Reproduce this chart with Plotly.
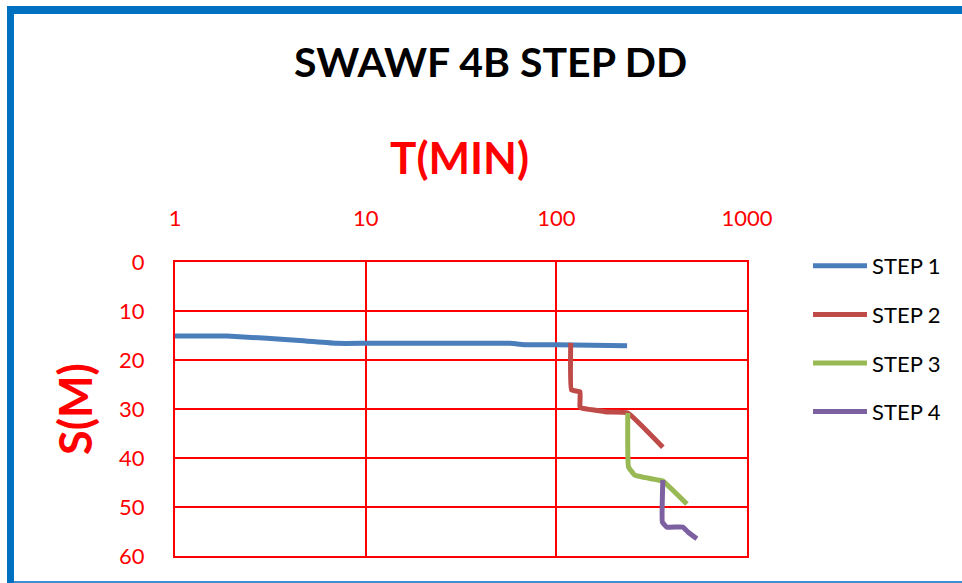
import plotly.graph_objects as go

# Drawdown readings: time since start of step (min) and drawdown S (m)
step1_t = [1, 1.87, 4.5, 7.1, 10, 57, 70, 100, 235]
step1_s = [15.1, 15.1, 16.0, 16.6, 16.6, 16.6, 16.9, 16.9, 17.1]

step2_t = [119, 120, 133, 133, 136, 184, 237, 362]
step2_s = [16.5, 26.1, 26.5, 29.6, 29.8, 30.6, 30.8, 37.8]

step3_t = [237, 239, 258, 341, 362, 484]
step3_s = [30.8, 41.8, 43.5, 44.5, 44.7, 49.4]

step4_t = [362, 360, 380, 461, 490, 546]
step4_s = [44.5, 53.1, 54.1, 54.1, 55.1, 56.5]

series_names = ["STEP 1", "STEP 2", "STEP 3", "STEP 4"]
series_colors = ["#4A7EBB", "#BE4B48", "#98B954", "#7D60A0"]

x_ticks = [1, 10, 100, 1000]
y_ticks = [0, 10, 20, 30, 40, 50, 60]

FONT = "Lato"
W, H = 962, 583
L, R, T, B = 175, 215, 262, 27
PW, PH = W - L - R, H - T - B


def px(x):
    return (x - L) / PW


def py(y):
    return (H - B - y) / PH


fig = go.Figure()
for name, color, t, s in zip(series_names, series_colors,
                             [step1_t, step2_t, step3_t, step4_t],
                             [step1_s, step2_s, step3_s, step4_s]):
    fig.add_trace(go.Scatter(
        x=t, y=s, mode="lines", name=name, legendgroup=name,
        line=dict(color=color, width=5, shape="spline", smoothing=0.3),
    ))

fig.update_xaxes(
    type="log", side="top", range=[0, 3],
    tickvals=x_ticks, ticktext=[str(v) for v in x_ticks],
    tickfont=dict(family=FONT, size=22, color="#FF0000"),
    ticklabelstandoff=25,
    showgrid=True, gridcolor="#FF0000", gridwidth=2,
    showline=True, linecolor="#FF0000", linewidth=2, mirror=True,
    zeroline=False,
)
fig.update_yaxes(
    range=[60, 0], tickvals=y_ticks,
    tickfont=dict(family=FONT, size=22, color="#FF0000"),
    ticklabelstandoff=24,
    showgrid=True, gridcolor="#FF0000", gridwidth=2,
    showline=True, linecolor="#FF0000", linewidth=2, mirror=True,
    zeroline=False,
)

annotations = [
    dict(text="<b>SWAWF 4B STEP DD</b>", x=px(490), y=py(62), xref="paper", yref="paper",
         showarrow=False, font=dict(family=FONT, size=41, color="#000000"),
         xanchor="center", yanchor="middle"),
    dict(text="<b>T(MIN)</b>", x=px(459), y=py(157), xref="paper", yref="paper",
         showarrow=False, font=dict(family=FONT, size=44, color="#FF0000"),
         xanchor="center", yanchor="middle"),
    dict(text="<b>S(M)</b>", x=px(75), y=py(409), xref="paper", yref="paper",
         showarrow=False, textangle=-90, font=dict(family=FONT, size=45, color="#FF0000"),
         xanchor="center", yanchor="middle"),
]

# Blue frame around the chart area
frame = "#0070C0"
shapes = [
    dict(type="rect", xref="paper", yref="paper", x0=px(7), x1=px(14), y0=py(583), y1=py(6),
         fillcolor=frame, line=dict(width=0), layer="above"),
    dict(type="rect", xref="paper", yref="paper", x0=px(7), x1=px(962), y0=py(14), y1=py(6),
         fillcolor=frame, line=dict(width=0), layer="above"),
    dict(type="rect", xref="paper", yref="paper", x0=px(14), x1=px(962), y0=py(583), y1=py(581),
         fillcolor="#3A92D6", line=dict(width=0), layer="above"),
]

fig.update_layout(
    width=W, height=H,
    margin=dict(l=L, r=R, t=T, b=B, autoexpand=False),
    paper_bgcolor="white", plot_bgcolor="white",
    annotations=annotations, shapes=shapes,
    showlegend=True,
    legend=dict(
        x=px(808), y=py(245), xanchor="left", yanchor="top",
        font=dict(family=FONT, size=22, color="#000000"),
        tracegroupgap=17, itemwidth=54, bgcolor="rgba(0,0,0,0)",
    ),
)

fig.write_html("out.html")
